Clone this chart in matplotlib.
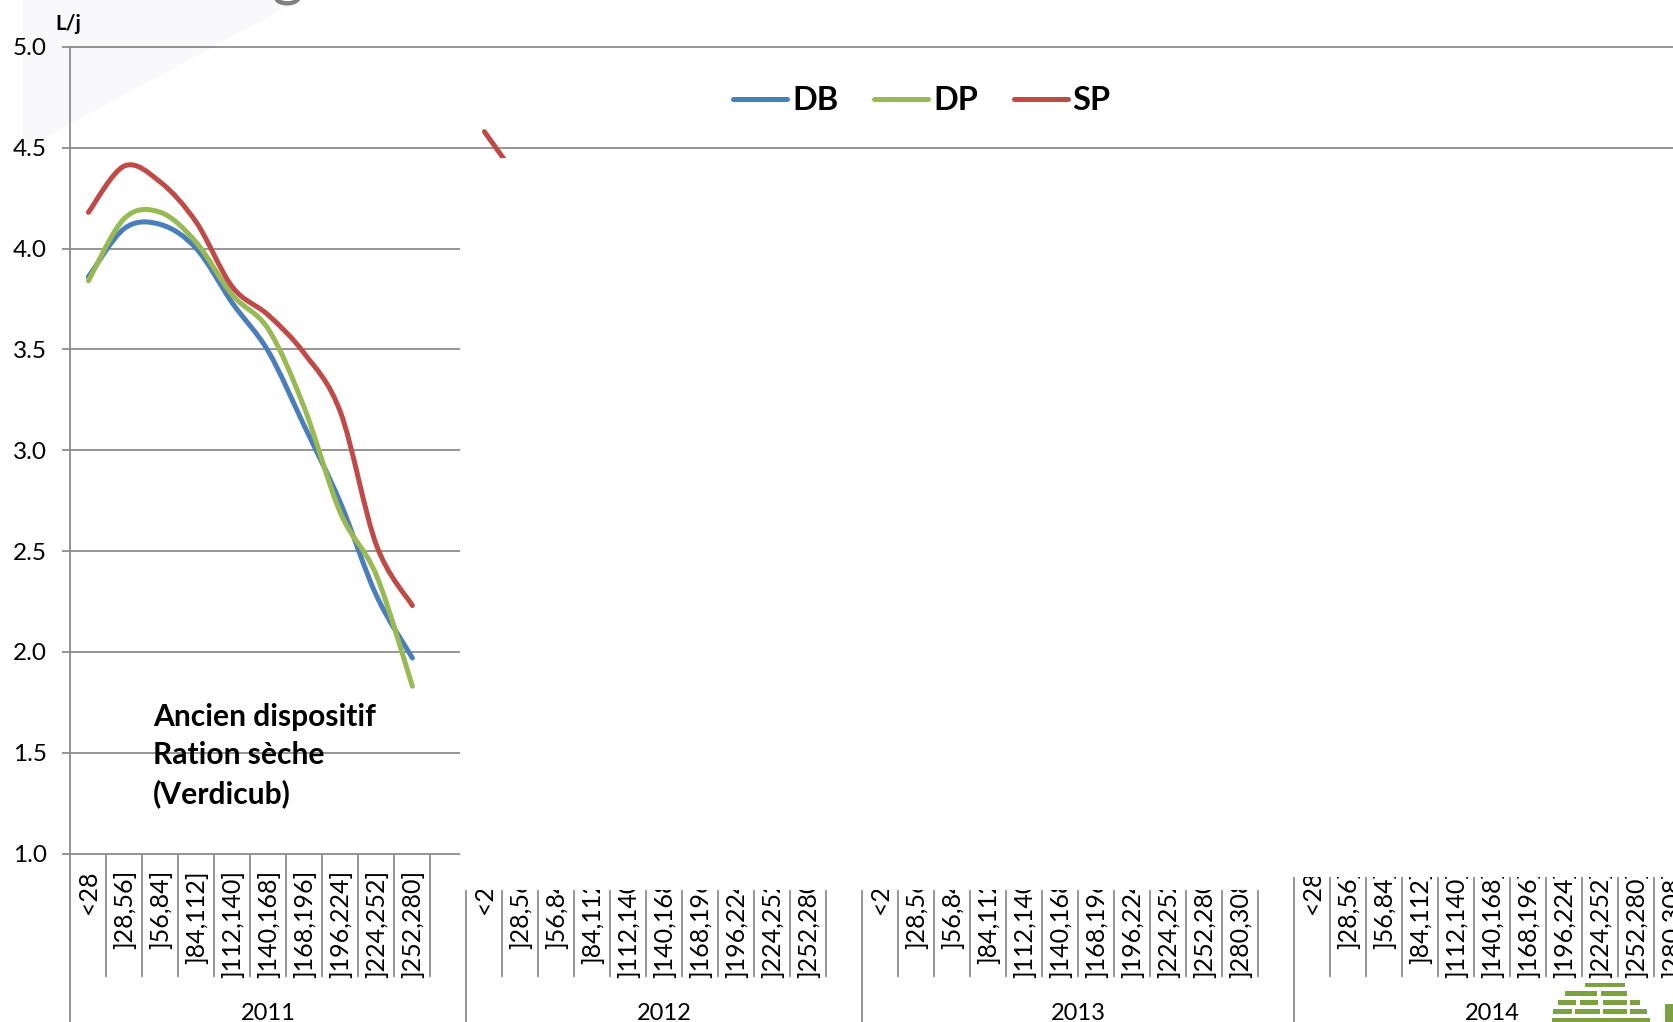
import numpy as np
import matplotlib.pyplot as plt
from matplotlib.path import Path
from matplotlib.patches import PathPatch, Rectangle, Polygon
from matplotlib.lines import Line2D

plt.rcParams['font.family'] = ['Lato', 'DejaVu Sans']

# classes d'age (jours) par annee, '' = case vide en fin de groupe
years = ['2011', '2012', '2013', '2014']
cats_2011 = ['<28', ']28,56]', ']56,84]', ']84,112]', ']112,140]', ']140,168]',
             ']168,196]', ']196,224]', ']224,252]', ']252,280]', '']
cats_2012 = ['<28', ']28,56]', ']56,84]', ']84,112]', ']112,140]', ']140,168]',
             ']168,196]', ']196,224]', ']224,252]', ']252,280]', '']
cats_2013 = ['<28', ']28,56]', ']56,84]', ']84,112]', ']112,140]', ']140,168]',
             ']168,196]', ']196,224]', ']224,252]', ']252,280]', ']280,308]', '']
cats_2014 = ['<28', ']28,56]', ']56,84]', ']84,112]', ']112,140]', ']140,168]',
             ']168,196]', ']196,224]', ']224,252]', ']252,280]', ']280,308]']

# consommation d'eau L/j (2011, ancien dispositif)
db_2011 = [3.86, 4.10, 4.12, 4.00, 3.73, 3.49, 3.12, 2.74, 2.28, 1.97]
dp_2011 = [3.84, 4.15, 4.18, 4.03, 3.77, 3.60, 3.21, 2.69, 2.38, 1.83]
sp_2011 = [4.18, 4.41, 4.33, 4.13, 3.81, 3.67, 3.48, 3.19, 2.53, 2.23]
# 2012 : seul le debut de la courbe SP depasse du cache blanc
sp_2012 = [4.58, 4.33]

series = ['DB', 'DP', 'SP']
colors = {'DB': '#4A7EBB', 'DP': '#98B954', 'SP': '#BE4B48'}
GRID = '#8c8c8c'
LABEL_SIZE = 17

W, H = 1673, 1022
def fx(px):
    return px / W
def fy(py):
    return 1 - py / H

AX_L, AX_T, AX_B = 70.4, 47.0, 853.6
SLOT = 36.0

def yfrac(py):
    # position verticale en pixels -> fraction de l'axe
    return (AX_B - py) / (AX_B - AX_T)


def excel_smooth(xs, ys):
    # courbe lissee facon Excel (Bezier type Catmull-Rom)
    p = np.column_stack([xs, ys]).astype(float)
    n = len(p)
    verts = [p[0]]
    codes = [Path.MOVETO]
    for i in range(n - 1):
        p0 = p[i - 1] if i > 0 else p[i]
        p3 = p[i + 2] if i + 2 < n else p[i + 1]
        c1 = p[i] + (p[i + 1] - p0) / 6
        c2 = p[i + 1] - (p3 - p[i]) / 6
        verts += [c1, c2, p[i + 1]]
        codes += [Path.CURVE4] * 3
    return Path(verts, codes)


fig = plt.figure(figsize=(W / 100, H / 100), dpi=100)

# leger degrade gris en haut a gauche (fond de diapo)
fig.add_artist(Polygon([(fx(22), fy(0)), (fx(300), fy(0)), (fx(22), fy(150))],
                       closed=True, transform=fig.transFigure,
                       facecolor='#f9f8fb', edgecolor='none', zorder=-2))
fig.text(fx(287), fy(-5.5), 'g', fontsize=44, color='#7f7f7f',
         ha='center', va='baseline', zorder=-1)

ax = fig.add_axes([fx(AX_L), fy(AX_B), fx(W) - fx(AX_L), fy(AX_T) - fy(AX_B)])
ax.patch.set_alpha(0)
ax.set_ylim(1.0, 5.0)
ax.set_xlim(-0.5, -0.5 + (W - AX_L) / SLOT)
ax.set_yticks(np.arange(1.0, 5.01, 0.5))
ax.set_yticklabels([f'{v:.1f}' for v in np.arange(1.0, 5.01, 0.5)])
ax.set_xticks([])
for s in ['top', 'right', 'bottom']:
    ax.spines[s].set_visible(False)
ax.spines['left'].set_color(GRID)
ax.spines['left'].set_linewidth(1.3)
ax.tick_params(axis='y', length=6, width=1.3, color=GRID, pad=11,
               labelsize=LABEL_SIZE + 0.5, labelcolor='black')
ax.yaxis.grid(True, color=GRID, linewidth=1.3)
ax.set_axisbelow(True)
for gl in ax.get_ygridlines():
    gl.set_clip_on(False)

# axe des categories a deux niveaux
groups = [cats_2011, cats_2012, cats_2013, cats_2014]
xtr = ax.get_xaxis_transform()
start = 0
for year, cats in zip(years, groups):
    end = start + len(cats)
    ax.vlines(start - 0.5, yfrac(H), 0, transform=xtr, colors=GRID,
              linewidth=1.3, clip_on=False)
    for j, lab in enumerate(cats):
        if not lab:
            continue
        x = start + j
        ax.text(x, yfrac(870), lab, transform=xtr, rotation=90, ha='center',
                va='top', fontsize=LABEL_SIZE + 1, clip_on=False)
        if x + 0.5 < end - 0.5:
            ax.vlines(x + 0.5, yfrac(976.7), 0, transform=xtr, colors=GRID,
                      linewidth=1.3, clip_on=False)
    ax.text((start + end - 1) / 2, yfrac(1020), year, transform=xtr,
            ha='center', va='baseline', fontsize=LABEL_SIZE, clip_on=False)
    start = end

x2011 = np.arange(len(db_2011))
for name, vals in zip(series, [db_2011, dp_2011, sp_2011]):
    ax.add_patch(PathPatch(excel_smooth(x2011, vals), fill=False,
                           edgecolor=colors[name], linewidth=3.6,
                           capstyle='round', joinstyle='round', zorder=3))
x2012 = len(cats_2011) + np.arange(len(sp_2012))
ax.plot(x2012, sp_2012, color=colors['SP'], linewidth=3.6,
        solid_capstyle='round', zorder=3)

# caches blancs poses sur les annees suivantes
for x0, x1, y1 in [(460, 1290, 890), (1290, W, 877)]:
    fig.add_artist(Rectangle((fx(x0), fy(y1)), fx(x1) - fx(x0), fy(158) - fy(y1),
                             transform=fig.transFigure, facecolor='white',
                             edgecolor='none', zorder=4))

handles = [Line2D([], [], color=colors[n], linewidth=3.6, solid_capstyle='round')
           for n in series]
fig.legend(handles, series, loc='center', bbox_to_anchor=(fx(922), fy(100.7)),
           ncol=3, frameon=False, prop={'weight': 'bold', 'size': 23.4},
           handlelength=1.66, handletextpad=0.15, columnspacing=1.1,
           borderpad=0, borderaxespad=0)

fig.text(fx(55), fy(30), 'L/j', fontsize=15, fontweight='bold', va='baseline')
# va='baseline' se cale sur la derniere ligne
fig.text(fx(152.7), fy(803), 'Ancien dispositif\nRation sèche\n(Verdicub)',
         fontsize=21.6, fontweight='bold', va='baseline', linespacing=1.43,
         zorder=6)

# logo en bas a droite
logo_green = '#7BA23F'
for y0, y1, bars in [(983, 987, [(1585, 1625)]),
                     (991, 996, [(1565, 1597), (1601, 1627)]),
                     (1000, 1005, [(1558, 1576), (1580, 1598), (1603, 1627), (1630, 1640)]),
                     (1009, 1014, [(1553, 1572), (1575, 1600), (1603, 1627), (1630, 1647)]),
                     (1018, 1022, [(1552, 1650)])]:
    for x0, x1 in bars:
        fig.add_artist(Rectangle((fx(x0), fy(y1)), fx(x1) - fx(x0), fy(y0) - fy(y1),
                                 transform=fig.transFigure, facecolor=logo_green,
                                 edgecolor='none', zorder=7))
fig.add_artist(Rectangle((fx(1665), fy(1022)), fx(W) - fx(1665), fy(1004) - fy(1022),
                         transform=fig.transFigure, facecolor=logo_green,
                         edgecolor='none', zorder=7))

fig.savefig('out.png', dpi=100)
